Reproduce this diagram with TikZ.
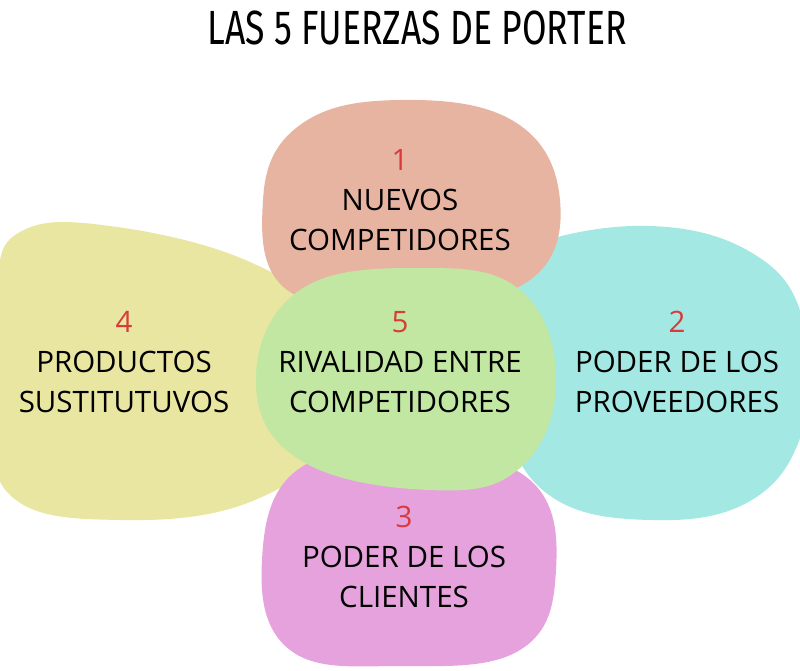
\documentclass[tikz,border=0pt]{standalone}
\usepackage{fontspec}
\setmainfont{Open Sans}
\newfontfamily\titlefont{Fira Sans}
\definecolor{cpink}{HTML}{E8B4A2}
\definecolor{ccyan}{HTML}{A3E8E2}
\definecolor{cyel}{HTML}{E8E6A0}
\definecolor{cmag}{HTML}{E6A2DC}
\definecolor{cgreen}{HTML}{C2E7A2}
\definecolor{cnum}{HTML}{D93A3C}
\begin{document}
\begin{tikzpicture}[x=1pt,y=-1pt,
  lbl/.style={align=center,font=\fontsize{29.5}{40}\selectfont,text=black}]
\useasboundingbox (0,0) rectangle (800,671);
\fill[cyel] plot[smooth cycle,tension=0.7] coordinates {(20,232)(110,226)(250,262)(322,322)(332,430)(255,500)(120,520)(10,495)(-6,400)(-4,290)};
\fill[ccyan] plot[smooth cycle,tension=0.7] coordinates {(520,250)(650,226)(760,258)(806,330)(806,420)(755,498)(650,520)(545,492)(498,400)(485,300)};
\fill[cpink] plot[smooth cycle,tension=0.7] coordinates {(300,125)(400,100)(515,122)(560,200)(530,280)(420,302)(290,292)(263,200)};
\fill[cmag] plot[smooth cycle,tension=0.7] coordinates {(300,468)(420,452)(530,480)(556,570)(520,650)(400,666)(290,650)(262,560)};
\fill[cgreen] plot[smooth cycle,tension=0.7] coordinates {(300,290)(420,268)(520,290)(556,380)(520,468)(430,490)(300,460)(256,380)};
\node[font=\titlefont\fontsize{48}{54}\selectfont] (title) at (417,28) {\scalebox{0.74}[1]{LAS 5 FUERZAS DE PORTER}};
\node[lbl] (n1) at (400,200) {\textcolor{cnum}{1}\\NUEVOS\\COMPETIDORES};
\node[lbl] (n2) at (677,362) {\textcolor{cnum}{2}\\PODER DE LOS\\PROVEEDORES};
\node[lbl] (n3) at (404,557) {\textcolor{cnum}{3}\\PODER DE LOS\\CLIENTES};
\node[lbl] (n4) at (124,362) {\textcolor{cnum}{4}\\PRODUCTOS\\SUSTITUTUVOS};
\node[lbl] (n5) at (400,362) {\textcolor{cnum}{5}\\RIVALIDAD ENTRE\\COMPETIDORES};
\end{tikzpicture}
\end{document}
